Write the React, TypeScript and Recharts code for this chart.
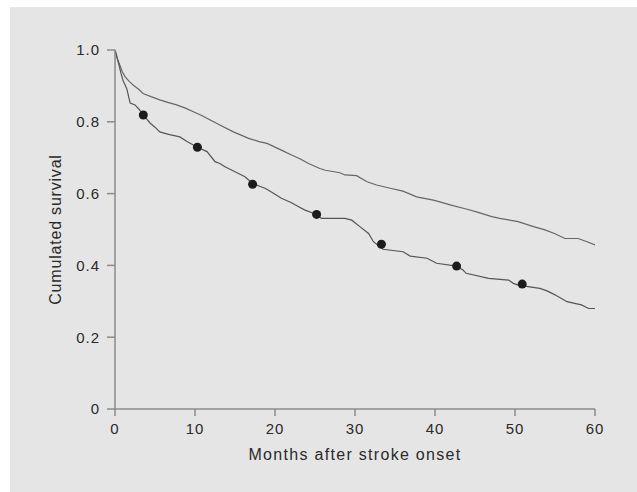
import { ComposedChart, Line, Scatter, XAxis, YAxis, Label } from "recharts";

const upperMonths = [
  0, 0.3, 0.6, 0.9, 1.25, 1.8, 2.3, 3.0, 3.5, 4.5, 5.6, 6.6, 7.7, 8.8, 9.8, 10.9, 11.9, 13.1,
  14.8, 16.7, 18.0, 19.0, 20.8, 22.0, 23.1, 24.2, 25.6, 26.3, 28.1, 28.75, 30.2, 31.5, 32.7,
  34.4, 36.0, 37.7, 39.8, 40.6, 42.0, 43.9, 45.5, 47.1, 48.1, 50.4, 52.3, 53.75, 55.0, 56.25,
  57.9, 59.0, 60.0,
];
const upperSurvival = [
  1.0, 0.975, 0.958, 0.94, 0.926, 0.912, 0.902, 0.89, 0.879, 0.87, 0.861, 0.854, 0.847, 0.838,
  0.828, 0.817, 0.805, 0.791, 0.772, 0.754, 0.745, 0.74, 0.721, 0.708, 0.697, 0.684, 0.67, 0.665,
  0.658, 0.652, 0.65, 0.633, 0.624, 0.615, 0.607, 0.591, 0.582, 0.577, 0.568, 0.557, 0.547,
  0.536, 0.531, 0.522, 0.508, 0.499, 0.488, 0.475, 0.475, 0.466, 0.457,
];

const lowerMonths = [
  0, 0.25, 0.5, 0.75, 1.0, 1.25, 1.5, 1.7, 1.9, 2.5, 3.0, 3.54, 4.4, 5.0, 5.6, 6.7, 8.1, 9.0,
  10.3, 11.5, 12.5, 13.1, 13.75, 15.0, 16.25, 17.2, 18.75, 19.5, 20.8, 22.0, 22.9, 23.75, 25.2,
  25.8, 28.75, 29.6, 30.6, 31.7, 32.3, 33.5, 36.0, 36.9, 39.0, 40.2, 42.7, 43.5, 43.9, 46.7,
  49.2, 49.8, 50.4, 53.1, 54.0, 55.0, 56.5, 58.3, 59.2, 60.0,
];
const lowerSurvival = [
  1.0, 0.98, 0.958, 0.935, 0.915, 0.903, 0.89, 0.87, 0.852, 0.847, 0.835, 0.819, 0.796, 0.785,
  0.772, 0.765, 0.758, 0.745, 0.729, 0.717, 0.689, 0.684, 0.675, 0.661, 0.647, 0.628, 0.615,
  0.605, 0.587, 0.575, 0.564, 0.554, 0.542, 0.531, 0.531, 0.526, 0.508, 0.489, 0.466, 0.445,
  0.438, 0.426, 0.42, 0.406, 0.398, 0.387, 0.378, 0.364, 0.359, 0.35, 0.345, 0.336, 0.329,
  0.318, 0.299, 0.29, 0.28, 0.28,
];

// filled markers on the lower curve
const markerMonths = [3.54, 10.3, 17.2, 25.2, 33.3, 42.7, 50.9];
const markerSurvival = [0.819, 0.729, 0.626, 0.542, 0.459, 0.398, 0.348];

const xTicks = [0, 10, 20, 30, 40, 50, 60];
const yTicks = [0, 0.2, 0.4, 0.6, 0.8, 1.0];

const upper = upperMonths.map((m, i) => ({ m, s: upperSurvival[i] }));
const lower = lowerMonths.map((m, i) => ({ m, s: lowerSurvival[i] }));
const markers = markerMonths.map((m, i) => ({ m, s: markerSurvival[i] }));

const font = '"Liberation Sans", Arial, Helvetica, sans-serif';
const axisColor = "#8a8a8a";
const textColor = "#2a2a2a";

export default function App() {
  return (
    <div
      style={{
        position: "absolute",
        left: 10,
        top: 7,
        width: 627,
        height: 485,
        background: "#e5e5e5",
        fontFamily: font,
      }}
    >
      <ComposedChart width={627} height={485} margin={{ top: 43, right: 42, bottom: 23, left: 45 }}>
        <XAxis
          type="number"
          dataKey="m"
          domain={[0, 60]}
          ticks={xTicks}
          allowDataOverflow
          height={60}
          tickSize={7}
          tickMargin={7}
          axisLine={{ stroke: axisColor, strokeWidth: 1.5 }}
          tickLine={{ stroke: axisColor, strokeWidth: 1.5 }}
          tick={{ fontSize: 15, fill: textColor, fontFamily: font, letterSpacing: 1 }}
        >
          <Label
            value="Months after stroke onset"
            position="insideBottom"
            offset={9}
            style={{ fontSize: 16, fill: textColor, fontFamily: font, letterSpacing: 1.3 }}
          />
        </XAxis>
        <YAxis
          type="number"
          domain={[0, 1]}
          ticks={yTicks}
          width={60}
          tickSize={8}
          tickMargin={7}
          tickFormatter={(v: number) => (v === 0 ? "0" : v.toFixed(1))}
          axisLine={{ stroke: axisColor, strokeWidth: 1.5 }}
          tickLine={{ stroke: axisColor, strokeWidth: 1.5 }}
          tick={{ fontSize: 15, fill: textColor, fontFamily: font, letterSpacing: 1 }}
        >
          <Label
            value="Cumulated survival"
            angle={-90}
            position="insideLeft"
            offset={0}
            style={{ fontSize: 16, fill: textColor, fontFamily: font, letterSpacing: 0.8, textAnchor: "middle" }}
          />
        </YAxis>
        <Line
          data={upper}
          dataKey="s"
          type="linear"
          stroke="#666666"
          strokeWidth={1.2}
          dot={false}
          isAnimationActive={false}
        />
        <Line
          data={lower}
          dataKey="s"
          type="linear"
          stroke="#555555"
          strokeWidth={1.2}
          dot={false}
          isAnimationActive={false}
        />
        <Scatter
          data={markers}
          dataKey="s"
          fill="#1c1c1c"
          isAnimationActive={false}
          shape={(p: any) => <circle cx={p.cx} cy={p.cy} r={4.5} fill="#1c1c1c" />}
        />
      </ComposedChart>
    </div>
  );
}
